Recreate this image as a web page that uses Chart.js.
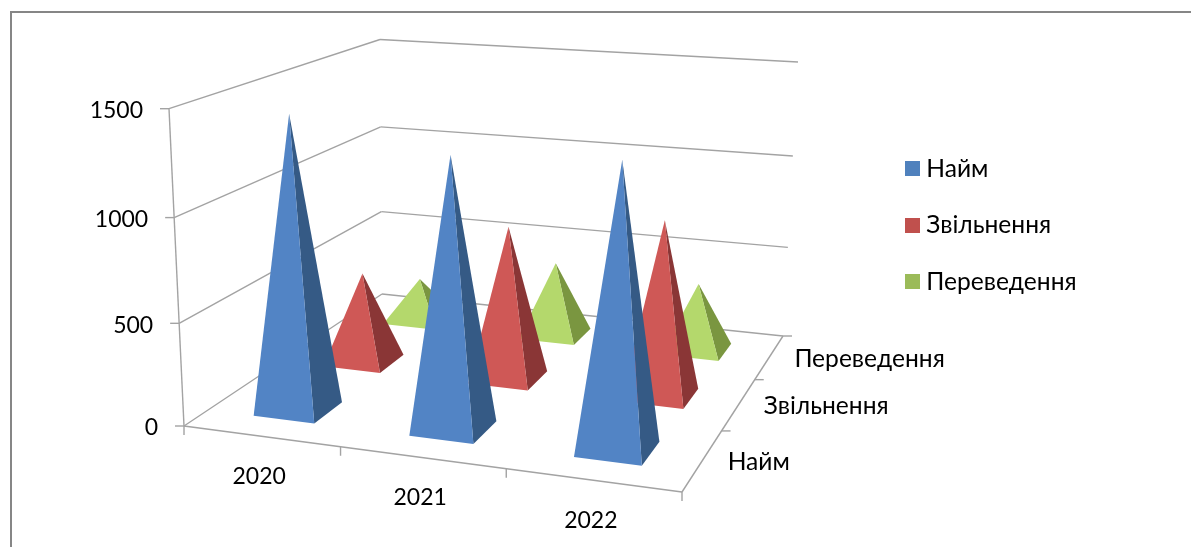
<!DOCTYPE html>
<html lang="en">
<head>
  <meta charset="UTF-8" />
  <title>Рух персоналу</title>
  <script src="https://cdn.jsdelivr.net/npm/chart.js"></script>
  <style>
    body { margin: 0; background: #fff; }
    #frame { position: absolute; left: 10px; top: 11px; width: 1181px; height: 536px; border-top: 2px solid #868686; border-left: 2px solid #868686; box-sizing: border-box; }
    canvas { position: absolute; left: 0; top: 0; }
  </style>
</head>
<body>
  <div id="frame"></div>
  <canvas id="chart" width="1191" height="547"></canvas>

  <script>
    const years = ['2020', '2021', '2022'];
    const seriesNames = ['Найм', 'Звільнення', 'Переведення'];
    const hires = [1435, 1300, 1335];
    const dismissals = [470, 785, 885];
    const transfers = [235, 400, 360];
    const valueStep = 500;
    const valueMax = 1500;

    const legendColors = ['#4f81bd', '#c0504d', '#9bbb59'];
    const frontColors = ['#5284c5', '#cf5856', '#b4d86c'];
    const sideColors = ['#355a85', '#8a3636', '#7a9640'];

    const digitFont = '23px Lato, "Noto Sans", sans-serif';
    const nameFont = '24.6px Lato, "Noto Sans", sans-serif';

    // corners of the 3D box on screen: front-left, front-right, back-right, back-left
    const floorQuad = [[184, 426], [682, 492], [783, 336], [382, 294]];
    const topQuad = [[169, 108.7], [692, 146], [798, 62], [380, 39.5]];
    const heightBend = 1.045;   // foreshortening along the vertical
    const halfU = 0.066, halfV = 0.067;

    // unit square -> quad perspective map
    function quadMap(q) {
      const [[x0, y0], [x1, y1], [x2, y2], [x3, y3]] = q;
      const dx1 = x1 - x2, dx2 = x3 - x2, sx = x0 - x1 + x2 - x3;
      const dy1 = y1 - y2, dy2 = y3 - y2, sy = y0 - y1 + y2 - y3;
      const den = dx1 * dy2 - dx2 * dy1;
      const g = (sx * dy2 - dx2 * sy) / den;
      const h = (dx1 * sy - sx * dy1) / den;
      const a = x1 - x0 + g * x1, b = x3 - x0 + h * x3;
      const d = y1 - y0 + g * y1, e = y3 - y0 + h * y3;
      return (u, v) => {
        const w = g * u + h * v + 1;
        return [(a * u + b * v + x0) / w, (d * u + e * v + y0) / w];
      };
    }
    const floorAt = quadMap(floorQuad);
    const topAt = quadMap(topQuad);

    // u, v in 0..1 across the floor, value on the y scale
    function project(chart, u, v, value) {
      const y = chart.scales.y;
      const t = (y.bottom - y.getPixelForValue(value)) / y.height;
      const s = t / (t + (1 - t) * heightBend);
      const f = floorAt(u, v), p = topAt(u, v);
      return [f[0] + (p[0] - f[0]) * s, f[1] + (p[1] - f[1]) * s];
    }

    function scaleFrac(scale, i) {
      return (scale.getPixelForValue(i) - scale.left) / scale.width;
    }

    function poly(ctx, pts, color) {
      ctx.fillStyle = color;
      ctx.beginPath();
      pts.forEach((p, i) => i ? ctx.lineTo(p[0], p[1]) : ctx.moveTo(p[0], p[1]));
      ctx.closePath();
      ctx.fill();
    }

    class PyramidController extends Chart.BarController {
      draw() {
        const chart = this.chart;
        const ds = this.index;
        const v = scaleFrac(chart.scales.depth, ds);
        const ctx = chart.ctx;
        this.getDataset().data.forEach((val, i) => {
          const u = scaleFrac(chart.scales.x, i);
          const apex = project(chart, u, v, this.getParsed(i).y);
          const fl = floorAt(u - halfU, v - halfV);
          const fr = floorAt(u + halfU, v - halfV);
          const br = floorAt(u + halfU, v + halfV);
          poly(ctx, [fr, br, apex], sideColors[ds]);
          poly(ctx, [fl, fr, apex], frontColors[ds]);
        });
      }
    }
    PyramidController.id = 'pyramid';
    PyramidController.defaults = Chart.BarController.defaults;
    PyramidController.overrides = Chart.BarController.overrides;
    Chart.register(PyramidController);

    function line(ctx, a, b) {
      ctx.beginPath();
      ctx.moveTo(a[0], a[1]);
      ctx.lineTo(b[0], b[1]);
      ctx.stroke();
    }

    // walls, floor, tick marks and the slanted axis labels
    const boxPlugin = {
      id: 'box',
      afterLayout(chart) {
        const lg = chart.legend;
        lg.left = 910 - lg.options.labels.padding;
        lg.top -= 42;
        lg.bottom -= 42;
      },
      beforeDatasetsDraw(chart) {
        const ctx = chart.ctx, y = chart.scales.y;
        ctx.save();
        ctx.strokeStyle = '#a3a3a3';
        ctx.lineWidth = 1.4;
        ctx.fillStyle = '#000';
        ctx.textBaseline = 'middle';

        ctx.font = digitFont;
        ctx.textAlign = 'right';
        y.ticks.forEach(tick => {
          const a = project(chart, 0, 0, tick.value);
          const b = project(chart, 0, 1, tick.value);
          const c = project(chart, 1, 1, tick.value);
          line(ctx, a, b);
          line(ctx, b, c);
          line(ctx, a, [a[0] - 9, a[1]]);
          ctx.fillText(tick.label, a[0] - 26, a[1] + 2);
        });
        line(ctx, project(chart, 0, 0, 0), project(chart, 0, 0, valueMax));
        line(ctx, floorAt(0, 0), floorAt(1, 0));
        line(ctx, floorAt(1, 0), floorAt(1, 1));

        for (let i = 0; i <= years.length; i++) {
          const p = floorAt(i / years.length, 0);
          line(ctx, p, [p[0], p[1] + 9]);
        }
        for (let i = 1; i <= seriesNames.length; i++) {
          const p = floorAt(1, i / seriesNames.length);
          line(ctx, p, [p[0] + 9, p[1]]);
        }

        ctx.textAlign = 'center';
        years.forEach((label, i) => {
          const p = floorAt(scaleFrac(chart.scales.x, i), 0);
          ctx.fillText(label, p[0] - 2, p[1] + 40);
        });
        ctx.font = nameFont;
        ctx.textAlign = 'left';
        seriesNames.forEach((label, i) => {
          const p = floorAt(1, scaleFrac(chart.scales.depth, i));
          ctx.fillText(label, p[0] + 25, p[1] + 2);
        });
        ctx.restore();
      }
    };

    // legend swatch; narrow pointStyleWidth keeps the text close to it
    function swatch(color) {
      const c = document.createElement('canvas');
      c.width = 15;
      c.height = 15;
      const g = c.getContext('2d');
      g.fillStyle = color;
      g.fillRect(0, 0, 15, 15);
      return c;
    }

    new Chart(document.getElementById('chart'), {
      type: 'pyramid',
      data: {
        labels: years,
        datasets: [
          { label: seriesNames[0], data: hires, clip: false },
          { label: seriesNames[1], data: dismissals, clip: false },
          { label: seriesNames[2], data: transfers, clip: false }
        ]
      },
      options: {
        responsive: false,
        animation: false,
        layout: { padding: { left: 170, top: 108.7, bottom: 121, right: 80 } },
        scales: {
          x: { display: false, offset: true },
          depth: { type: 'category', axis: 'x', labels: seriesNames, display: false, offset: true },
          y: { display: false, min: 0, max: valueMax, ticks: { stepSize: valueStep, callback: v => String(v) } }
        },
        plugins: {
          tooltip: { enabled: false },
          legend: {
            position: 'right',
            labels: {
              usePointStyle: true,
              pointStyleWidth: 4,
              padding: 32,
              color: '#000',
              font: { family: 'Lato, "Noto Sans", sans-serif', size: 24.6 },
              generateLabels: chart => chart.data.datasets.map((d, i) => ({
                text: d.label,
                pointStyle: swatch(legendColors[i]),
                datasetIndex: i,
                lineWidth: 0,
                fontColor: '#000'
              }))
            }
          }
        }
      },
      plugins: [boxPlugin]
    });
  </script>
</body>
</html>
